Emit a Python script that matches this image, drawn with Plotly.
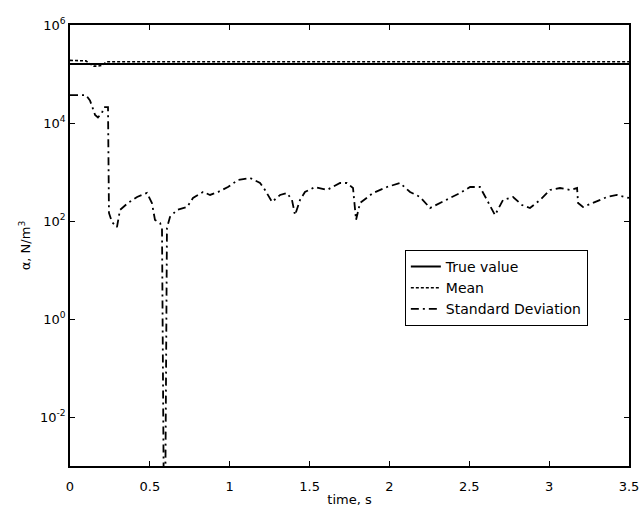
import plotly.graph_objects as go

# Time axis (s) and estimates of alpha (N/m^3)
t_true = [0.0, 3.5]
alpha_true = [1.6e5, 1.6e5]

t_mean = [0.0, 0.05, 0.10, 0.125, 0.15, 0.175, 0.20, 0.23, 0.30, 0.5, 1.0, 1.5, 2.0, 2.5, 3.0, 3.5]
alpha_mean = [1.9e5, 1.9e5, 1.85e5, 1.6e5, 1.45e5, 1.45e5, 1.5e5, 1.78e5, 1.78e5, 1.78e5,
              1.78e5, 1.78e5, 1.78e5, 1.78e5, 1.78e5, 1.78e5]

t_std = [0.000, 0.100, 0.125, 0.157, 0.175, 0.200, 0.213, 0.238, 0.244, 0.263,
         0.294, 0.313, 0.363, 0.420, 0.482, 0.513, 0.532, 0.564, 0.576, 0.592,
         0.607, 0.626, 0.670, 0.733, 0.770, 0.833, 0.877, 0.927, 0.989, 1.052,
         1.127, 1.190, 1.221, 1.265, 1.315, 1.359, 1.390, 1.409, 1.440, 1.471,
         1.534, 1.609, 1.691, 1.734, 1.772, 1.791, 1.816, 1.897, 1.985, 2.066,
         2.129, 2.192, 2.254, 2.317, 2.379, 2.442, 2.505, 2.567, 2.611, 2.661,
         2.711, 2.774, 2.830, 2.880, 2.943, 3.006, 3.068, 3.131, 3.175, 3.181,
         3.212, 3.275, 3.363, 3.425, 3.500]
alpha_std = [37000, 37000, 29000, 14600, 13000, 16000, 21000, 21000, 146, 95,
             75, 168, 233, 309, 373, 233, 105, 91, 72, 1e-6,
             72, 121, 168, 193, 295, 391, 340, 391, 494, 687,
             755, 597, 430, 244, 340, 373, 268, 132, 268, 391,
             494, 430, 597, 597, 471, 105, 233, 373, 494, 597,
             391, 309, 184, 233, 295, 373, 494, 494, 268, 132,
             268, 309, 212, 184, 268, 430, 471, 430, 471, 233,
             193, 233, 309, 340, 295]

x_ticks = [0, 0.5, 1, 1.5, 2, 2.5, 3, 3.5]
x_ticklabels = ["0", "0.5", "1", "1.5", "2", "2.5", "3", "3.5"]
y_ticks = [1e-2, 1e0, 1e2, 1e4, 1e6]
y_ticklabels = ["10<sup>-2</sup>", "10<sup>0</sup>", "10<sup>2</sup>", "10<sup>4</sup>", "10<sup>6</sup>"]

FONT = "DejaVu Sans, Liberation Sans, Arial, sans-serif"
tick_font = dict(family=FONT, size=13, color="black")
title_font = dict(family=FONT, size=13, color="black")

fig = go.Figure()
fig.add_trace(go.Scatter(x=t_true, y=alpha_true, mode="lines", name="True value",
                         line=dict(color="black", width=2, dash="solid")))
fig.add_trace(go.Scatter(x=t_mean, y=alpha_mean, mode="lines", name="Mean",
                         line=dict(color="black", width=1.6, dash="3px,2px")))
fig.add_trace(go.Scatter(x=t_std, y=alpha_std, mode="lines", name="Standard Deviation",
                         line=dict(color="black", width=1.8, dash="8px,4px,2px,4px")))

fig.update_layout(
    width=644, height=512,
    margin=dict(l=70, r=15, t=25, b=46),
    paper_bgcolor="white", plot_bgcolor="white",
    font=tick_font,
    showlegend=True,
    legend=dict(x=0.599, y=0.49, xanchor="left", yanchor="top",
                bgcolor="white", bordercolor="black", borderwidth=1,
                font=dict(family=FONT, size=14, color="black"),
                tracegroupgap=0, itemwidth=30),
)
fig.update_xaxes(range=[0, 3.5], tickvals=x_ticks, ticktext=x_ticklabels,
                 tickfont=tick_font, ticklabelstandoff=8, automargin=False,
                 ticks="inside", ticklen=5, tickwidth=1, tickcolor="black",
                 showline=True, linecolor="black", linewidth=1.5, mirror="ticks",
                 showgrid=False, zeroline=False,
                 title=dict(text="time, s", font=title_font, standoff=2))
fig.update_yaxes(type="log", range=[-3, 6], tickvals=y_ticks, ticktext=y_ticklabels,
                 tickfont=tick_font, automargin=False,
                 ticks="inside", ticklen=5, tickwidth=1, tickcolor="black",
                 showline=True, linecolor="black", linewidth=1.5, mirror="ticks",
                 showgrid=False, zeroline=False,
                 title=dict(text="α, N/m<sup>3</sup>", font=title_font, standoff=6))

fig.write_html("out.html")
